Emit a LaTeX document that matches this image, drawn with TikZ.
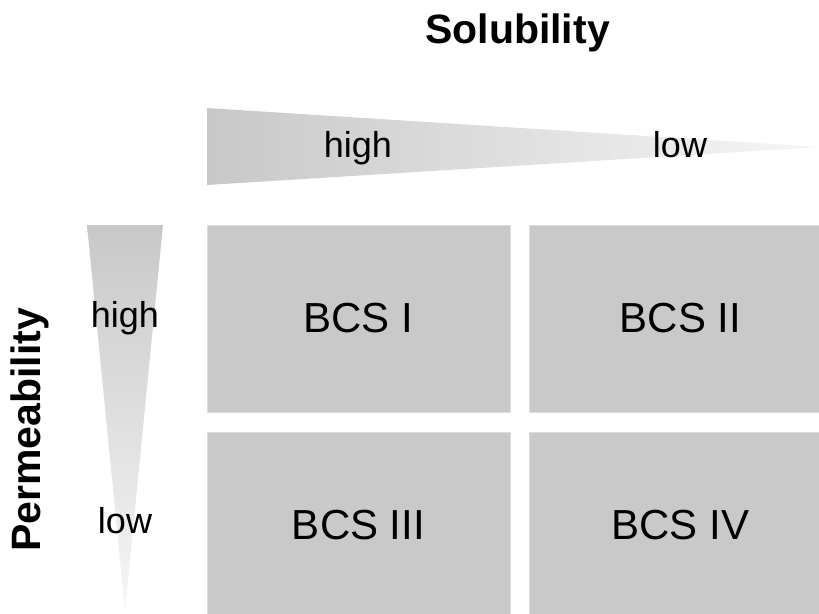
\documentclass[tikz,border=0pt]{standalone}
\usepackage{fontspec}
\setmainfont{Liberation Sans}
\definecolor{cellgray}{HTML}{C9C9C9}
\definecolor{celledge}{HTML}{DCDCDC}
\definecolor{wedgedark}{HTML}{C8C8C8}
\definecolor{wedgemid}{HTML}{D0D0D0}
\definecolor{wedgelight}{HTML}{F6F6F6}
\tikzset{
  cell/.style={fill=cellgray, draw=celledge, line width=1pt,
    minimum width=303pt, minimum height=187pt, inner sep=0pt,
    font=\fontsize{42}{50}\selectfont},
  level/.style={inner sep=0pt, anchor=base, font=\fontsize{36}{42}\selectfont},
  axistitle/.style={inner sep=0pt, font=\fontsize{41}{48}\selectfont\bfseries}
}
\begin{document}
\begin{tikzpicture}[x=1pt, y=-1pt]
  \useasboundingbox (0,0) rectangle (819,613);
  \clip (0,0) rectangle (819,613);

  % axis titles
  \node[axistitle] (sol) at (517.5,33) {Solubility};
  \node[axistitle, rotate=90] (perm) at (30,430) {Permeability};

  % solubility wedge: high on the left, narrowing towards low
  \coordinate (sa) at (207,108);
  \coordinate (sb) at (207,185);
  \coordinate (sc) at (819,147);
  \shade[left color=wedgedark, middle color=wedgemid, right color=wedgelight]
    (sa) -- (sc) -- (sb) -- cycle;
  \node[level] (shigh) at (358,157) {high};
  \node[level] (slow) at (680,157) {low};

  % permeability wedge: high at the top, narrowing towards low
  \coordinate (pa) at (87,225);
  \coordinate (pb) at (163,225);
  \coordinate (pc) at (125,611);
  \shade[top color=wedgedark, middle color=wedgemid, bottom color=wedgelight]
    (pa) -- (pb) -- (pc) -- cycle;
  \node[level] (phigh) at (125,327) {high};
  \node[level] (plow) at (125,533) {low};

  % the four classes
  \node[cell] (bcs1) at (358.5,318.5) {BCS I};
  \node[cell] (bcs2) at (680.5,318.5) {BCS II};
  \node[cell] (bcs3) at (358.5,525.5) {BCS III};
  \node[cell] (bcs4) at (680.5,525.5) {BCS IV};
\end{tikzpicture}
\end{document}
